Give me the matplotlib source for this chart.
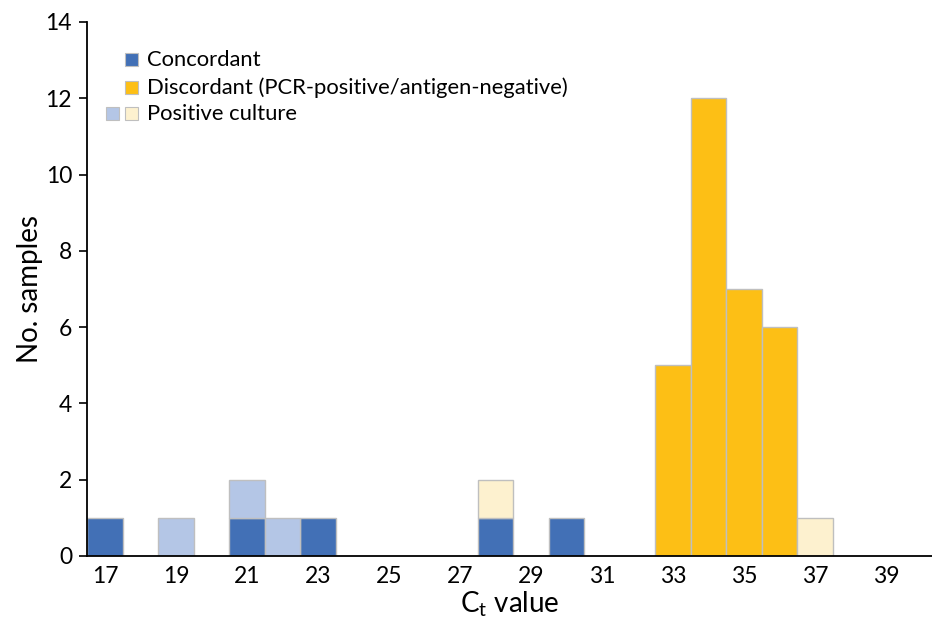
import numpy as np
import matplotlib.pyplot as plt
from matplotlib.patches import Rectangle

# Ct value categories (one bar slot per integer)
ct_values = list(range(17, 41))
concordant = [1, 0, 0, 0, 1, 0, 1, 0, 0, 0, 0, 1, 0, 1, 0, 0, 0, 0, 0, 0, 0, 0, 0, 0]
discordant = [0, 0, 0, 0, 0, 0, 0, 0, 0, 0, 0, 0, 0, 0, 0, 0, 5, 12, 7, 6, 0, 0, 0, 0]
culture_concordant = [0, 0, 1, 0, 1, 1, 0, 0, 0, 0, 0, 0, 0, 0, 0, 0, 0, 0, 0, 0, 0, 0, 0, 0]
culture_discordant = [0, 0, 0, 0, 0, 0, 0, 0, 0, 0, 0, 1, 0, 0, 0, 0, 0, 0, 0, 0, 1, 0, 0, 0]
legend_labels = ["Concordant", "Discordant (PCR-positive/antigen-negative)", "Positive culture"]

c_conc = "#4270b6"
c_disc = "#fdbf15"
c_conc_light = "#b4c6e6"
c_disc_light = "#fdf1cf"
edge = "#bfbfbf"

plt.rcParams['font.family'] = ['Lato', 'DejaVu Sans']

fig = plt.figure(figsize=(9.32, 6.23), dpi=100)
ax = fig.add_axes([87.3 / 932, 67 / 623, (932 - 87.3) / 932, 534 / 623])

x = np.arange(len(ct_values))
bottom = np.zeros(len(ct_values))
for vals, col in [(concordant, c_conc), (discordant, c_disc),
                  (culture_concordant, c_conc_light), (culture_discordant, c_disc_light)]:
    vals = np.array(vals)
    mask = vals > 0
    ax.bar(x[mask], vals[mask], width=1.0, bottom=bottom[mask], color=col,
           edgecolor=edge, linewidth=1.0, zorder=2)
    bottom += vals

ax.set_xlim(-0.5, 23.3)
ax.set_ylim(0, 14)
ax.set_yticks(range(0, 15, 2))
ax.set_xticks(x[::2])
ax.set_xticklabels([str(v) for v in ct_values[::2]])
ax.tick_params(axis='x', length=0, pad=7, labelsize=16.5)
ax.tick_params(axis='y', length=6, width=1.2, direction='out', labelsize=16.5, pad=5)
for s in ['top', 'right']:
    ax.spines[s].set_visible(False)
for s in ['left', 'bottom']:
    ax.spines[s].set_linewidth(1.3)
    ax.spines[s].set_zorder(3)

ax.set_ylabel("No. samples", fontsize=20, labelpad=2)
ax.set_xlabel("C$_\\mathregular{t}$ value", fontsize=20, labelpad=2)

# legend drawn by hand (two swatches on the last row)
def to_axes(px, py):
    return ax.transAxes.inverted().transform(fig.transFigure.transform((px / 932, 1 - py / 623)))

rows = [(60, [c_conc]), (88, [c_disc]), (114, [c_conc_light, c_disc_light])]
for (py, cols), label in zip(rows, legend_labels):
    xs = [125] if len(cols) == 1 else [106, 125]
    for px, col in zip(xs, cols):
        x0, y0 = to_axes(px, py + 6)
        x1, y1 = to_axes(px + 13, py - 7)
        ax.add_patch(Rectangle((x0, y0), x1 - x0, y1 - y0, transform=ax.transAxes,
                               facecolor=col, edgecolor=edge, linewidth=0.8, clip_on=False))
    tx, ty = to_axes(147, py)
    ax.text(tx, ty, label, transform=ax.transAxes, fontsize=15.8, va='center', ha='left')

fig.savefig("out.png", dpi=100)
